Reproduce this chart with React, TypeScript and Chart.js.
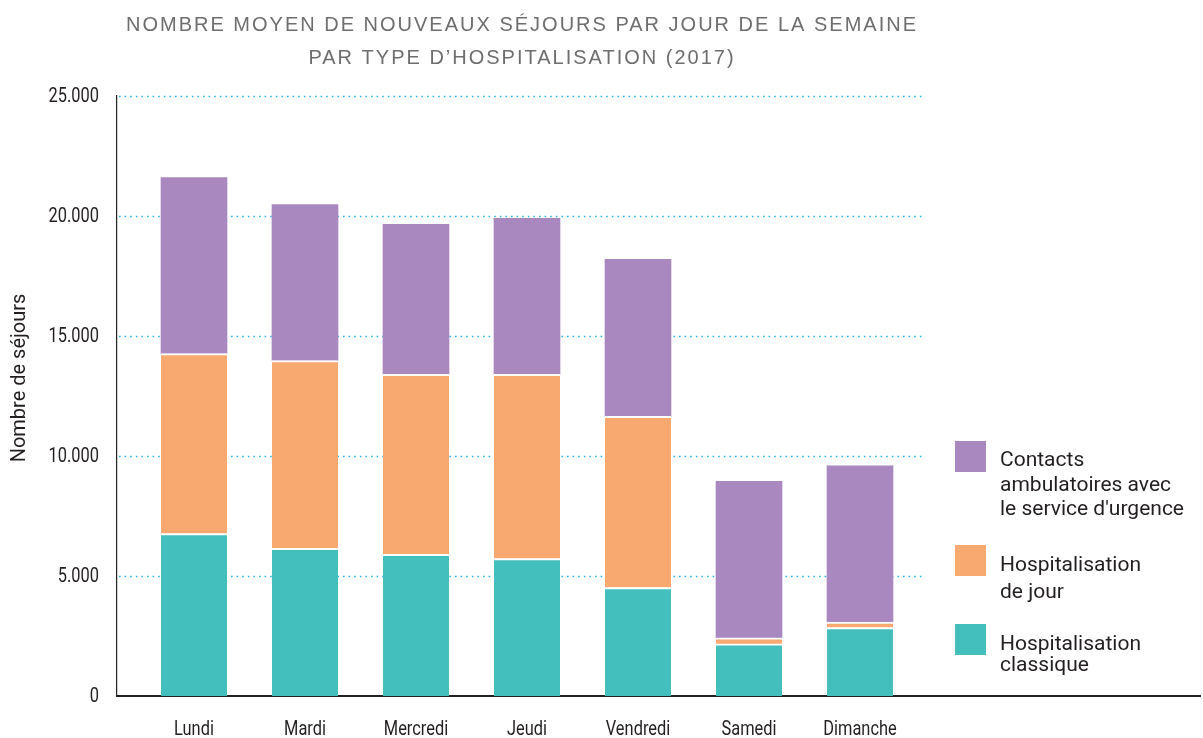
import React, { useEffect, useRef } from "react";
import { Chart, registerables } from "chart.js";

Chart.register(...registerables);

const DAYS = ["Lundi", "Mardi", "Mercredi", "Jeudi", "Vendredi", "Samedi", "Dimanche"];
const CLASSIQUE = [6770, 6150, 5900, 5730, 4520, 2170, 2850];
const JOUR = [7500, 7830, 7500, 7670, 7130, 250, 230];
const URGENCE = [7330, 6500, 6250, 6500, 6540, 6520, 6510];
const Y_TICKS = [0, 5000, 10000, 15000, 20000, 25000];

const TITLE_LINES = [
  "NOMBRE MOYEN DE NOUVEAUX SÉJOURS PAR JOUR DE LA SEMAINE",
  "PAR TYPE D’HOSPITALISATION (2017)",
];
const Y_TITLE = "Nombre de séjours";
const LEGEND_ITEMS = [
  { lines: ["Contacts", "ambulatoires avec", "le service d'urgence"], color: "#A888BF" },
  { lines: ["Hospitalisation", "de jour"], color: "#F8A970" },
  { lines: ["Hospitalisation", "classique"], color: "#43C0BD" },
];

const FONT = "Roboto, 'Liberation Sans', sans-serif";
const SANS = "'Liberation Sans', Arial, sans-serif";
const TEXT = "#231F20";
const SQUEEZE = 0.82;

const fmt = (v: number) => String(v).replace(/\B(?=(\d{3})+(?!\d))/g, ".");

function squeezedText(ctx: CanvasRenderingContext2D, s: string, x: number, y: number) {
  ctx.save();
  ctx.translate(x, y);
  ctx.scale(SQUEEZE, 1);
  ctx.fillText(s, 0, 0);
  ctx.restore();
}

const decorPlugin = {
  id: "decor",
  beforeDatasetsDraw(chart: any) {
    const { ctx, scales } = chart;
    const y = scales.y;
    ctx.save();
    ctx.strokeStyle = "#27B4EA";
    ctx.lineWidth = 1.5;
    ctx.setLineDash([1.6, 4]);
    Y_TICKS.forEach((v) => {
      if (v === 0) return;
      const py = Math.round(y.getPixelForValue(v)) + 0.5;
      ctx.beginPath();
      ctx.moveTo(chart.chartArea.left + 2, py);
      ctx.lineTo(925, py);
      ctx.stroke();
    });
    ctx.restore();
  },
  afterDraw(chart: any) {
    const { ctx, scales } = chart;
    ctx.save();
    // tick labels (condensed look), placed through the scales
    ctx.fillStyle = TEXT;
    ctx.font = `20px ${FONT}`;
    ctx.textAlign = "center";
    ctx.textBaseline = "alphabetic";
    scales.x.ticks.forEach((t: any) => {
      const label = DAYS[Math.round(t.value)];
      if (label) squeezedText(ctx, label, scales.x.getPixelForValue(t.value), 735);
    });
    ctx.textAlign = "right";
    ctx.textBaseline = "middle";
    scales.y.ticks.forEach((t: any) => {
      squeezedText(ctx, fmt(t.value), 99, scales.y.getPixelForValue(t.value) + 1);
    });
    // title
    ctx.fillStyle = "#6E6E6E";
    ctx.font = `20px ${SANS}`;
    (ctx as any).letterSpacing = "2px";
    ctx.textAlign = "center";
    ctx.textBaseline = "alphabetic";
    ctx.fillText(TITLE_LINES[0], 522, 31);
    ctx.fillText(TITLE_LINES[1], 522, 64);
    (ctx as any).letterSpacing = "0px";
    // y title
    ctx.fillStyle = TEXT;
    ctx.font = `20px ${FONT}`;
    ctx.save();
    ctx.translate(20, 378);
    ctx.rotate(-Math.PI / 2);
    ctx.textAlign = "center";
    ctx.textBaseline = "middle";
    ctx.fillText(Y_TITLE, 0, 0);
    ctx.restore();
    // legend
    const boxTops = [441, 545, 624];
    const lineYs = [
      [466, 490.5, 515],
      [570.5, 598],
      [650, 671],
    ];
    ctx.textAlign = "left";
    ctx.textBaseline = "alphabetic";
    ctx.font = `21px ${FONT}`;
    LEGEND_ITEMS.forEach((item, i) => {
      ctx.fillStyle = item.color;
      ctx.fillRect(955, boxTops[i], 31, 31);
      ctx.fillStyle = TEXT;
      item.lines.forEach((ln, j) => ctx.fillText(ln, 1000, lineYs[i][j]));
    });
    ctx.restore();
  },
};

export default function App() {
  const ref = useRef<HTMLCanvasElement>(null);
  useEffect(() => {
    document.body.style.margin = "0";
    const ctx = ref.current!;
    const mk = (data: number[]) => data.map((v, i) => ({ x: i, y: v }));
    const chart = new Chart(ctx, {
      type: "bar",
      data: {
        datasets: [
          {
            label: "Hospitalisation classique",
            data: mk(CLASSIQUE) as any,
            backgroundColor: "#43C0BD",
            borderColor: "#ffffff",
            borderWidth: { top: 2, left: 0, right: 0, bottom: 0 },
            borderSkipped: false,
          },
          {
            label: "Hospitalisation de jour",
            data: mk(JOUR) as any,
            backgroundColor: "#F8A970",
            borderColor: "#ffffff",
            borderWidth: { top: 2, left: 0, right: 0, bottom: 0 },
            borderSkipped: false,
          },
          {
            label: "Contacts ambulatoires avec le service d'urgence",
            data: mk(URGENCE) as any,
            backgroundColor: "#A888BF",
            borderWidth: 0,
          },
        ],
      },
      options: {
        responsive: false,
        animation: false,
        layout: { padding: { top: 96, right: 3, left: 0, bottom: 0 } },
        datasets: { bar: { barThickness: 66 } } as any,
        plugins: {
          legend: { display: false },
          title: { display: false },
          tooltip: { enabled: false },
        },
        scales: {
          x: {
            type: "linear",
            stacked: true,
            offset: false,
            min: (117 - 194) / 111,
            max: (1200 - 194) / 111,
            grid: { display: false, drawTicks: false },
            border: { display: true, color: "#222222", width: 2 },
            afterBuildTicks: (axis: any) => {
              axis.ticks = DAYS.map((_, i) => ({ value: i }));
            },
            afterFit: (s: any) => {
              s.height = 42;
            },
            ticks: {
              display: false,
              autoSkip: false,
              callback: (v: any) => DAYS[Math.round(Number(v))] ?? "",
            },
          },
          y: {
            stacked: true,
            min: 0,
            max: 25000,
            grid: { display: false, drawTicks: false },
            border: { display: true, color: "#222222", width: 1.2 },
            afterFit: (s: any) => {
              s.width = 117;
            },
            ticks: {
              display: false,
              stepSize: 5000,
              callback: (v: any) => fmt(Number(v)),
            },
          },
        },
      },
      plugins: [decorPlugin],
    });
    return () => chart.destroy();
  }, []);
  return (
    <canvas
      ref={ref}
      width={1203}
      height={738}
      style={{ position: "absolute", left: 0, top: 0, width: 1203, height: 738 }}
    />
  );
}
